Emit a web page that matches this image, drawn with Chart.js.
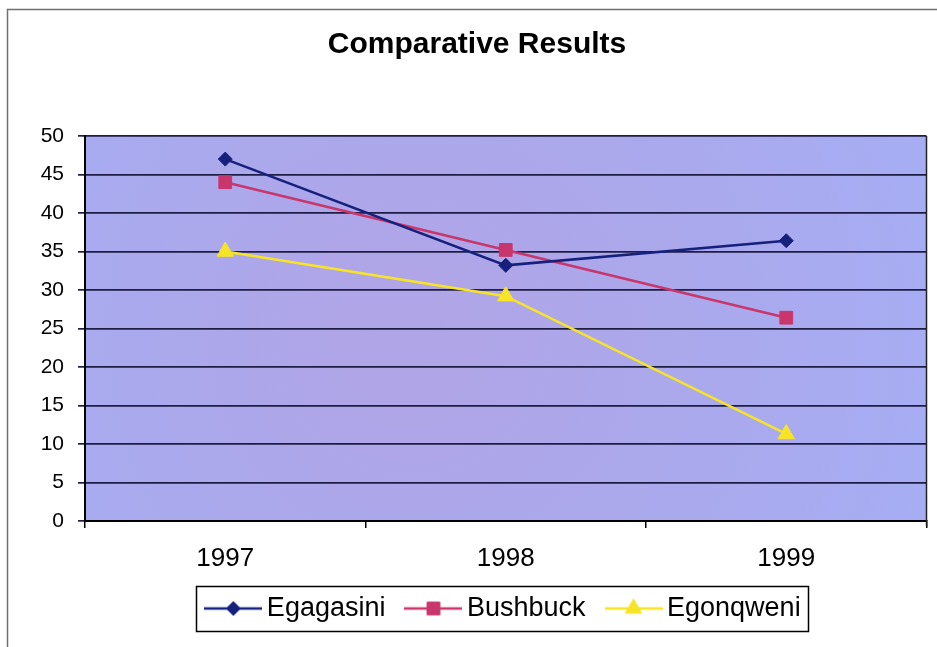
<!DOCTYPE html>
<html>
<head>
<meta charset="utf-8">
<title>Comparative Results</title>
<script src="https://cdn.jsdelivr.net/npm/chart.js@4.4.1/dist/chart.umd.min.js"></script>
<style>
  html, body { margin: 0; padding: 0; background: #ffffff; }
  canvas { display: block; }
</style>
</head>
<body>
<canvas id="chart" width="937" height="647"></canvas>
<script>
// Categories and series values
const years = ['1997', '1998', '1999'];
const egagasini = [47, 33.2, 36.4];
const bushbuck = [44, 35.2, 26.4];
const egonqweni = [35, 29.2, 11.3];

// Value axis range
const yMin = 0;
const yMax = 50;
const yStep = 5;

const FONT = "'Liberation Sans', Arial, Helvetica, sans-serif";
const NAVY = '#15217c';
const PINK = '#c8366c';
const YELLOW = '#f7e426';

const series = [
  { label: 'Egagasini', data: egagasini, color: NAVY,   style: 'rectRot',  radius: 7 },
  { label: 'Bushbuck',  data: bushbuck,  color: PINK,   style: 'rect',     radius: 9 },
  { label: 'Egonqweni', data: egonqweni, color: YELLOW, style: 'triangle', radius: 9.5 }
];

// Legend swatch: a short line with the series marker on it
const SWATCH_W = 40;
const SWATCH_PAD = 9;
function legendSwatch(s) {
  const c = document.createElement('canvas');
  c.width = SWATCH_W + 2 * SWATCH_PAD;
  c.height = 24;
  const g = c.getContext('2d');
  g.strokeStyle = s.color;
  g.lineWidth = 2.5;
  g.beginPath();
  g.moveTo(0, 12);
  g.lineTo(c.width, 12);
  g.stroke();
  g.fillStyle = s.color;
  g.strokeStyle = s.color;
  g.lineWidth = 1;
  Chart.helpers.drawPoint(g, { pointStyle: s.style, radius: s.radius, rotation: 0, borderWidth: 1 }, c.width / 2, 12);
  return c;
}
const swatches = series.map(legendSwatch);

const TITLE_SHIFT = 12;
const LEGEND_SHIFT = 42;

// Moves title and legend horizontally after the layout pass
const shiftBlocks = {
  id: 'shiftBlocks',
  afterLayout(chart) {
    const t = chart.titleBlock;
    if (t) { t.left += TITLE_SHIFT; t.right += TITLE_SHIFT; }
    const l = chart.legend;
    if (l) { l.left += LEGEND_SHIFT; l.right += LEGEND_SHIFT; }
  }
};

// Plot-area fill, right edge, legend frame and outer frame
const decorations = {
  id: 'decorations',
  beforeDraw(chart) {
    const { ctx, chartArea: a } = chart;
    ctx.save();
    const grad = ctx.createRadialGradient(400, 340, 20, 460, 330, 560);
    grad.addColorStop(0, '#b0a5e6');
    grad.addColorStop(0.55, '#aaa9ee');
    grad.addColorStop(1, '#a5aff5');
    ctx.fillStyle = grad;
    ctx.fillRect(a.left, a.top, a.right - a.left, a.bottom - a.top);
    ctx.restore();
  },
  beforeDatasetsDraw(chart) {
    const { ctx, chartArea: a } = chart;
    ctx.save();
    ctx.strokeStyle = '#222';
    ctx.lineWidth = 1.5;
    ctx.beginPath();
    ctx.moveTo(a.right, a.top);
    ctx.lineTo(a.right, a.bottom + 5);
    ctx.stroke();
    ctx.restore();
  },
  afterDraw(chart) {
    const { ctx } = chart;
    ctx.save();
    // legend frame
    const hb = chart.legend.legendHitBoxes;
    if (hb && hb.length) {
      const first = hb[0], last = hb[hb.length - 1];
      const left = first.left - SWATCH_PAD - 8;
      const right = last.left + last.width + 8;
      const cy = first.top + first.height / 2;
      ctx.strokeStyle = '#000';
      ctx.lineWidth = 1.5;
      ctx.strokeRect(Math.round(left) + 0.5, Math.round(cy - 22.5) + 0.5, Math.round(right - left), 45);
    }
    // outer frame
    ctx.strokeStyle = '#707070';
    ctx.lineWidth = 1.5;
    ctx.beginPath();
    ctx.moveTo(7.5, chart.height);
    ctx.lineTo(7.5, 9.5);
    ctx.lineTo(chart.width, 9.5);
    ctx.stroke();
    ctx.restore();
  }
};

new Chart(document.getElementById('chart'), {
  type: 'line',
  data: {
    labels: years,
    datasets: series.map(s => ({
      label: s.label,
      data: s.data,
      borderColor: s.color,
      backgroundColor: s.color,
      borderWidth: 2.5,
      tension: 0,
      fill: false,
      pointStyle: s.style,
      pointRadius: s.radius,
      pointHoverRadius: s.radius,
      pointBackgroundColor: s.color,
      pointBorderColor: s.color,
      pointBorderWidth: 1
    }))
  },
  options: {
    responsive: false,
    animation: false,
    events: [],
    layout: { padding: { left: 0, right: 7, top: 0, bottom: 15 } },
    scales: {
      x: {
        offset: true,
        grid: { offset: true, drawOnChartArea: false, drawTicks: true, tickLength: 7, color: '#000', lineWidth: 1.5 },
        border: { color: '#000', width: 2 },
        ticks: { color: '#000', font: { family: FONT, size: 26 }, padding: 15, maxRotation: 0 },
        afterFit(scale) { scale.height = 46; }
      },
      y: {
        min: yMin,
        max: yMax,
        ticks: { stepSize: yStep, color: '#000', font: { family: FONT, size: 21 }, padding: 14 },
        grid: { color: '#1e1e44', lineWidth: 1.7, drawTicks: true, tickLength: 7 },
        border: { color: '#000', width: 2 },
        afterFit(scale) { scale.width = 85; }
      }
    },
    plugins: {
      title: {
        display: true,
        text: 'Comparative Results',
        color: '#000',
        font: { family: FONT, size: 30, weight: 'bold', lineHeight: 1.2 },
        padding: { top: 27, bottom: 73 }
      },
      legend: {
        display: true,
        position: 'bottom',
        labels: {
          usePointStyle: true,
          pointStyleWidth: SWATCH_W,
          padding: 28,
          color: '#000',
          font: { family: FONT, size: 27 },
          generateLabels: () => series.map((s, i) => ({
            text: s.label,
            pointStyle: swatches[i],
            fillStyle: s.color,
            strokeStyle: s.color,
            lineWidth: 0,
            hidden: false,
            datasetIndex: i,
            fontColor: '#000'
          }))
        }
      },
      tooltip: { enabled: false }
    }
  },
  plugins: [shiftBlocks, decorations]
});
</script>
</body>
</html>
